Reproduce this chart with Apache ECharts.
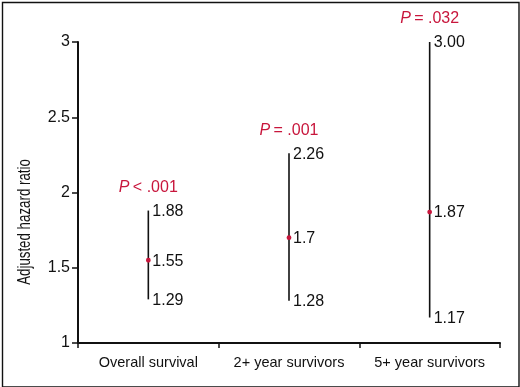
<!DOCTYPE html>
<html>
<head>
<meta charset="utf-8">
<script src="https://cdn.jsdelivr.net/npm/echarts@6/dist/echarts.min.js"></script>
<style>
	html, body { margin: 0; padding: 0; background: #fff; }
	#chart { width: 520px; height: 387px; }
</style>
</head>
<body>
<div id="chart"></div>
<script>
var groups = ['Overall survival', '2+ year survivors', '5+ year survivors'];
var lower = [1.29, 1.28, 1.17];
var estimate = [1.55, 1.7, 1.87];
var upper = [1.88, 2.26, 3.00];
var lowerText = ['1.29', '1.28', '1.17'];
var estText = ['1.55', '1.7', '1.87'];
var upperText = ['1.88', '2.26', '3.00'];
var pText = ['< .001', '= .001', '= .032'];

var red = '#c8163c';
var font = '"Liberation Sans", Arial, sans-serif';

var rows = groups.map(function (g, i) {
	return [i, lower[i], estimate[i], upper[i]];
});

function renderBar(params, api) {
	var i = api.value(0);
	var lo = api.coord([i, api.value(1)]);
	var mid = api.coord([i, api.value(2)]);
	var hi = api.coord([i, api.value(3)]);
	var x = lo[0];
	function label(y, txt) {
		return {
			type: 'text',
			style: { x: x + 4, y: y + 1, text: txt, fill: '#111', font: '16px ' + font, textVerticalAlign: 'middle' }
		};
	}
	return {
		type: 'group',
		children: [
			{ type: 'line', shape: { x1: x, y1: lo[1], x2: x, y2: hi[1] }, style: { stroke: '#111', lineWidth: 1.6 } },
			{ type: 'circle', shape: { cx: x, cy: mid[1], r: 2.4 }, style: { fill: red } },
			label(hi[1], upperText[i]),
			label(mid[1], estText[i]),
			label(lo[1], lowerText[i]),
			{
				type: 'text',
				style: {
					x: x, y: hi[1] - 23,
					rich: {
						p: { fontStyle: 'italic', fontSize: 16, fontFamily: font, fill: red },
						t: { fontSize: 16, fontFamily: font, fill: red }
					},
					text: '{p|P} {t|' + pText[i] + '}',
					textAlign: 'center', textVerticalAlign: 'middle'
				}
			}
		]
	};
}

var option = {
	animation: false,
	grid: { left: 78, right: 20, top: 42, bottom: 44 },
	xAxis: {
		type: 'category',
		data: groups,
		boundaryGap: true,
		axisLine: { lineStyle: { color: '#111', width: 2 } },
		axisTick: { show: true, length: 5, lineStyle: { color: '#111', width: 1.5 } },
		axisLabel: { color: '#111', fontSize: 14.5, fontFamily: font, margin: 12, interval: 0 }
	},
	yAxis: {
		type: 'value',
		min: 1, max: 3, interval: 0.5,
		axisLine: { show: true, lineStyle: { color: '#111', width: 2 } },
		axisTick: { show: true, length: 6, lineStyle: { color: '#111', width: 1.5 } },
		axisLabel: { color: '#111', fontSize: 16, fontFamily: font, margin: 8 },
		splitLine: { show: false }
	},
	graphic: [
		{
			type: 'rect', left: 0, top: 0,
			shape: { x: 0.5, y: 0.5, width: 516.5, height: 384.5 },
			style: { fill: 'none', stroke: '#111', lineWidth: 1.4 }
		},
		{
			type: 'text', x: 25, y: 222, rotation: Math.PI / 2, scaleX: 0.76,
			style: {
				text: 'Adjusted hazard ratio', fill: '#111',
				font: '17.5px ' + font,
				textAlign: 'center', textVerticalAlign: 'middle'
			}
		}
	],
	series: [{
		type: 'custom',
		renderItem: renderBar,
		encode: { x: 0, y: [1, 2, 3] },
		data: rows
	}]
};

var myChart = echarts.init(document.getElementById('chart'));
myChart.setOption(option);
</script>
</body>
</html>
